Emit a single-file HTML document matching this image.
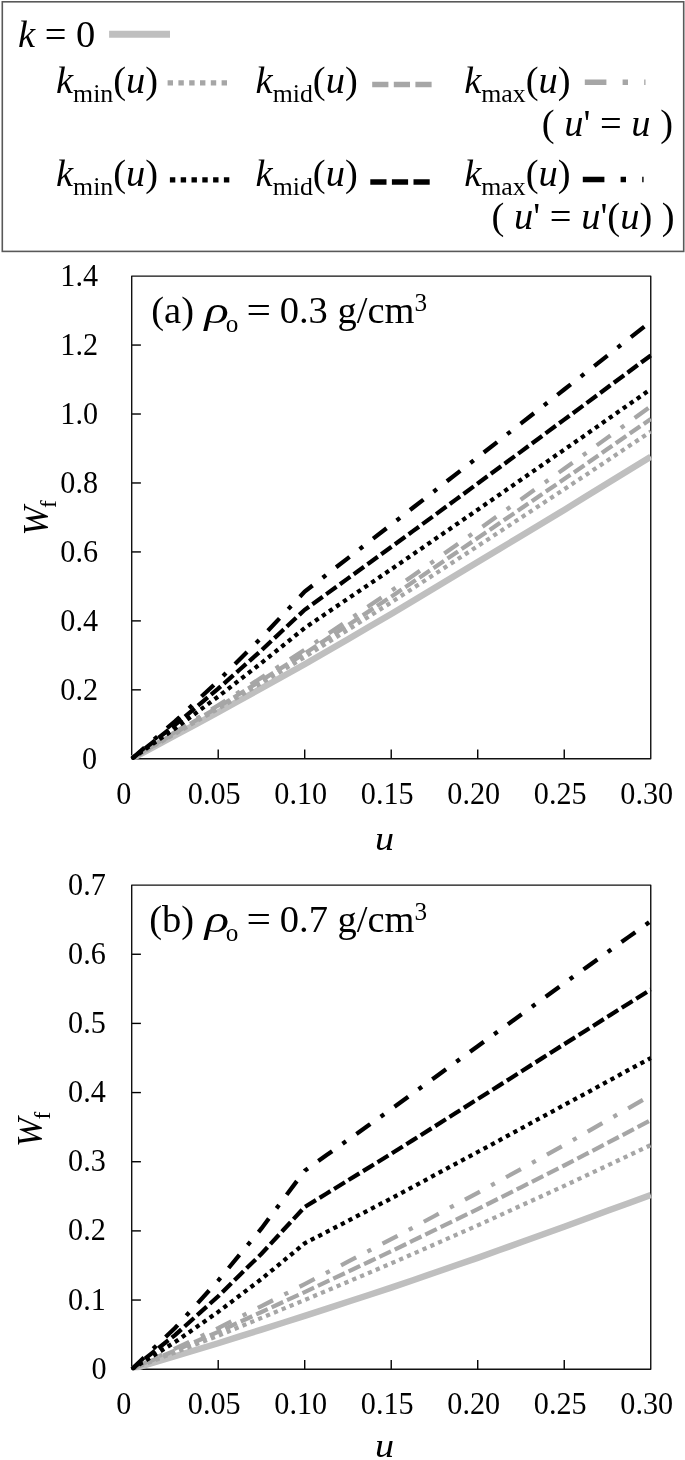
<!DOCTYPE html>
<html><head><meta charset="utf-8"><title>Figure</title>
<style>html,body{margin:0;padding:0;background:#fff}svg{display:block}text{font-family:"Liberation Serif", serif;fill:#000}</style>
</head><body>
<svg width="685" height="1460" viewBox="0 0 685 1460">
<rect width="685" height="1460" fill="#fff"/>
<rect x="2.3" y="1.8" width="681.4" height="249.6" fill="#fff" stroke="#595959" stroke-width="1.6"/>
<text x="18" y="46.6" font-size="38.5"><tspan font-style="italic">k</tspan> = 0</text>
<line x1="109.1" y1="34.3" x2="170" y2="34.3" stroke="#bfbfbf" stroke-width="7"/>
<text x="56" y="93.0" font-size="38.5"><tspan font-style="italic">k</tspan><tspan font-size="25.8" dy="9">min</tspan><tspan dy="-9">(</tspan><tspan font-style="italic">u</tspan>)</text>
<text x="255.6" y="93.0" font-size="38.5"><tspan font-style="italic">k</tspan><tspan font-size="25.8" dy="9">mid</tspan><tspan dy="-9">(</tspan><tspan font-style="italic">u</tspan>)</text>
<text x="464.2" y="93.0" font-size="38.5"><tspan font-style="italic">k</tspan><tspan font-size="25.8" dy="9">max</tspan><tspan dy="-9">(</tspan><tspan font-style="italic">u</tspan>)</text>
<line x1="167.6" y1="82.9" x2="228.2" y2="82.9" stroke="#a6a6a6" stroke-width="5.4" stroke-dasharray="5.4 5.4"/>
<line x1="372.2" y1="84.5" x2="431.6" y2="84.5" stroke="#a6a6a6" stroke-width="5.4" stroke-dasharray="16.20 5.4"/>
<line x1="584.8" y1="82.3" x2="645.5" y2="82.3" stroke="#a6a6a6" stroke-width="5.4" stroke-dasharray="21.60 16.20 5.4 16.20"/>
<text x="56" y="186.0" font-size="38.5"><tspan font-style="italic">k</tspan><tspan font-size="25.8" dy="9">min</tspan><tspan dy="-9">(</tspan><tspan font-style="italic">u</tspan>)</text>
<text x="255.6" y="186.0" font-size="38.5"><tspan font-style="italic">k</tspan><tspan font-size="25.8" dy="9">mid</tspan><tspan dy="-9">(</tspan><tspan font-style="italic">u</tspan>)</text>
<text x="464.2" y="186.0" font-size="38.5"><tspan font-style="italic">k</tspan><tspan font-size="25.8" dy="9">max</tspan><tspan dy="-9">(</tspan><tspan font-style="italic">u</tspan>)</text>
<line x1="169.9" y1="179.9" x2="230.5" y2="179.9" stroke="#000" stroke-width="5.4" stroke-dasharray="5.4 5.4"/>
<line x1="370.3" y1="182.0" x2="429.7" y2="182.0" stroke="#000" stroke-width="5.4" stroke-dasharray="16.20 5.4"/>
<line x1="582.8" y1="179.5" x2="643.6" y2="179.5" stroke="#000" stroke-width="5.4" stroke-dasharray="21.60 16.20 5.4 16.20"/>
<text x="673" y="136.4" font-size="38.5" text-anchor="end">( <tspan font-style="italic">u</tspan>' = <tspan font-style="italic">u</tspan> )</text>
<text x="674.7" y="229.0" font-size="38.5" text-anchor="end">( <tspan font-style="italic">u</tspan>' = <tspan font-style="italic">u</tspan>'(<tspan font-style="italic">u</tspan>) )</text>
<text transform="translate(97.0,769.00) scale(1,1.045)" font-size="30.2" text-anchor="end">0</text>
<line x1="131.7" y1="689.84" x2="140.9" y2="689.84" stroke="#000" stroke-width="1.4"/>
<text transform="translate(98.1,700.04) scale(1,1.045)" font-size="30.2" text-anchor="end">0.2</text>
<line x1="131.7" y1="620.89" x2="140.9" y2="620.89" stroke="#000" stroke-width="1.4"/>
<text transform="translate(98.1,631.09) scale(1,1.045)" font-size="30.2" text-anchor="end">0.4</text>
<line x1="131.7" y1="551.93" x2="140.9" y2="551.93" stroke="#000" stroke-width="1.4"/>
<text transform="translate(98.1,562.13) scale(1,1.045)" font-size="30.2" text-anchor="end">0.6</text>
<line x1="131.7" y1="482.97" x2="140.9" y2="482.97" stroke="#000" stroke-width="1.4"/>
<text transform="translate(98.1,493.17) scale(1,1.045)" font-size="30.2" text-anchor="end">0.8</text>
<line x1="131.7" y1="414.01" x2="140.9" y2="414.01" stroke="#000" stroke-width="1.4"/>
<text transform="translate(98.1,424.21) scale(1,1.045)" font-size="30.2" text-anchor="end">1.0</text>
<line x1="131.7" y1="345.06" x2="140.9" y2="345.06" stroke="#000" stroke-width="1.4"/>
<text transform="translate(98.1,355.26) scale(1,1.045)" font-size="30.2" text-anchor="end">1.2</text>
<text transform="translate(98.1,286.30) scale(1,1.045)" font-size="30.2" text-anchor="end">1.4</text>
<text transform="translate(123.90,804.20) scale(1,1.045)" font-size="30.2" text-anchor="middle">0</text>
<line x1="218.21" y1="758.8" x2="218.21" y2="749.5999999999999" stroke="#000" stroke-width="1.4"/>
<text transform="translate(214.21,804.20) scale(1,1.045)" font-size="30.2" text-anchor="middle">0.05</text>
<line x1="304.72" y1="758.8" x2="304.72" y2="749.5999999999999" stroke="#000" stroke-width="1.4"/>
<text transform="translate(300.72,804.20) scale(1,1.045)" font-size="30.2" text-anchor="middle">0.10</text>
<line x1="391.22" y1="758.8" x2="391.22" y2="749.5999999999999" stroke="#000" stroke-width="1.4"/>
<text transform="translate(387.22,804.20) scale(1,1.045)" font-size="30.2" text-anchor="middle">0.15</text>
<line x1="477.73" y1="758.8" x2="477.73" y2="749.5999999999999" stroke="#000" stroke-width="1.4"/>
<text transform="translate(473.73,804.20) scale(1,1.045)" font-size="30.2" text-anchor="middle">0.20</text>
<line x1="564.24" y1="758.8" x2="564.24" y2="749.5999999999999" stroke="#000" stroke-width="1.4"/>
<text transform="translate(560.24,804.20) scale(1,1.045)" font-size="30.2" text-anchor="middle">0.25</text>
<text transform="translate(646.75,804.20) scale(1,1.045)" font-size="30.2" text-anchor="middle">0.30</text>
<text transform="translate(384.6,850.10) scale(1.06,0.92)" font-size="36" font-style="italic" text-anchor="middle">u</text>
<text transform="translate(47.7,535.55) rotate(-90)" font-size="35"><tspan font-style="italic">W</tspan><tspan font-size="23" dy="8.3" dx="-1.5">f</tspan></text>
<text x="151.3" y="322.50" font-size="38.5">(a)</text>
<text transform="translate(204.60,322.50) scale(1.32,1)" font-size="38.5" font-style="italic">ρ</text>
<text x="225.70" y="331.50" font-size="25.2">o</text>
<text transform="translate(246.50,322.50) scale(1.13,1)" font-size="38.5">=</text>
<text x="279.70" y="322.50" font-size="38.5">0.3 g/cm<tspan font-size="25.2" dy="-11.5">3</tspan></text>
<rect x="131.7" y="276.1" width="519.05" height="482.69999999999993" fill="none" stroke="#111" stroke-width="1.4" stroke-linejoin="round"/>
<g clip-path="url(#ca)">
<clipPath id="ca"><rect x="130.7" y="276.1" width="521.05" height="483.69999999999993"/></clipPath>
<polyline points="131.7,758.8 153.3,747.2 175.0,735.5 196.6,723.9 218.2,712.3 239.8,700.3 261.5,688.3 283.1,676.3 304.7,664.3 326.3,651.7 348.0,639.2 369.6,626.6 391.2,614.0 412.9,601.0 434.5,588.0 456.1,575.1 477.7,562.1 499.4,549.0 521.0,536.0 542.6,522.9 564.2,509.9 585.9,496.6 607.5,483.3 629.1,470.0 650.8,456.8" fill="none" stroke="#bfbfbf" stroke-width="6.4"/>
<polyline points="131.7,758.8 153.3,746.3 175.0,733.8 196.6,721.3 218.2,708.8 239.8,695.9 261.5,682.9 283.1,670.0 304.7,657.1 326.3,643.4 348.0,629.8 369.6,616.1 391.2,602.4 412.9,588.3 434.5,574.3 456.1,560.2 477.7,546.1 499.4,531.9 521.0,517.7 542.6,503.5 564.2,489.3 585.9,474.9 607.5,460.5 629.1,446.0 650.8,431.6" fill="none" stroke="#a6a6a6" stroke-width="4.25" stroke-dasharray="4.25 4.25"/>
<polyline points="131.7,758.8 153.3,745.9 175.0,732.9 196.6,720.0 218.2,707.1 239.8,693.7 261.5,680.3 283.1,666.9 304.7,653.5 326.3,639.3 348.0,625.1 369.6,610.9 391.2,596.7 412.9,582.0 434.5,567.4 456.1,552.7 477.7,538.1 499.4,523.3 521.0,508.6 542.6,493.8 564.2,479.1 585.9,464.1 607.5,449.1 629.1,434.0 650.8,419.0" fill="none" stroke="#a6a6a6" stroke-width="4.25" stroke-dasharray="12.75 4.25"/>
<polyline points="131.7,758.8 153.3,745.4 175.0,732.1 196.6,718.7 218.2,705.4 239.8,691.5 261.5,677.6 283.1,663.7 304.7,649.8 326.3,635.1 348.0,620.4 369.6,605.6 391.2,590.9 412.9,575.7 434.5,560.5 456.1,545.2 477.7,530.0 499.4,514.7 521.0,499.4 542.6,484.1 564.2,468.8 585.9,453.2 607.5,437.6 629.1,422.0 650.8,406.4" fill="none" stroke="#a6a6a6" stroke-width="4.25" stroke-dasharray="17.00 12.75 4.25 12.75"/>
<polyline points="131.7,758.8 153.3,743.6 175.0,728.5 196.6,712.5 218.2,696.6 239.8,679.8 261.5,662.9 283.1,645.5 304.7,628.0 326.3,613.3 348.0,598.6 369.6,584.0 391.2,569.3 412.9,554.4 434.5,539.5 456.1,524.6 477.7,509.7 499.4,494.7 521.0,479.7 542.6,464.7 564.2,449.7 585.9,434.6 607.5,419.4 629.1,404.3 650.8,389.2" fill="none" stroke="#000" stroke-width="4.25" stroke-dasharray="4.25 4.25"/>
<polyline points="131.7,758.8 153.3,741.9 175.0,724.9 196.6,706.8 218.2,688.7 239.8,669.5 261.5,650.3 283.1,630.0 304.7,609.8 326.3,594.1 348.0,578.4 369.6,562.7 391.2,547.0 412.9,531.1 434.5,515.3 456.1,499.4 477.7,483.5 499.4,467.5 521.0,451.6 542.6,435.6 564.2,419.6 585.9,403.6 607.5,387.5 629.1,371.5 650.8,355.4" fill="none" stroke="#000" stroke-width="4.25" stroke-dasharray="12.75 4.25"/>
<polyline points="131.7,758.8 153.3,740.1 175.0,721.4 196.6,701.1 218.2,680.9 239.8,659.2 261.5,637.6 283.1,614.6 304.7,591.6 326.3,574.9 348.0,558.1 369.6,541.4 391.2,524.7 412.9,507.8 434.5,491.0 456.1,474.1 477.7,457.3 499.4,440.3 521.0,423.4 542.6,406.5 564.2,389.5 585.9,372.6 607.5,355.6 629.1,338.6 650.8,321.6" fill="none" stroke="#000" stroke-width="4.25" stroke-dasharray="17.00 12.75 4.25 12.75"/>
</g>
<text transform="translate(106.6,1378.80) scale(1,1.045)" font-size="30.2" text-anchor="end">0</text>
<line x1="131.7" y1="1300.04" x2="140.9" y2="1300.04" stroke="#000" stroke-width="1.4"/>
<text transform="translate(105.8,1309.64) scale(1,1.045)" font-size="30.2" text-anchor="end">0.1</text>
<line x1="131.7" y1="1230.89" x2="140.9" y2="1230.89" stroke="#000" stroke-width="1.4"/>
<text transform="translate(105.8,1240.49) scale(1,1.045)" font-size="30.2" text-anchor="end">0.2</text>
<line x1="131.7" y1="1161.73" x2="140.9" y2="1161.73" stroke="#000" stroke-width="1.4"/>
<text transform="translate(105.8,1171.33) scale(1,1.045)" font-size="30.2" text-anchor="end">0.3</text>
<line x1="131.7" y1="1092.57" x2="140.9" y2="1092.57" stroke="#000" stroke-width="1.4"/>
<text transform="translate(105.8,1102.17) scale(1,1.045)" font-size="30.2" text-anchor="end">0.4</text>
<line x1="131.7" y1="1023.41" x2="140.9" y2="1023.41" stroke="#000" stroke-width="1.4"/>
<text transform="translate(105.8,1033.01) scale(1,1.045)" font-size="30.2" text-anchor="end">0.5</text>
<line x1="131.7" y1="954.26" x2="140.9" y2="954.26" stroke="#000" stroke-width="1.4"/>
<text transform="translate(105.8,963.86) scale(1,1.045)" font-size="30.2" text-anchor="end">0.6</text>
<text transform="translate(105.8,894.70) scale(1,1.045)" font-size="30.2" text-anchor="end">0.7</text>
<text transform="translate(123.90,1413.80) scale(1,1.045)" font-size="30.2" text-anchor="middle">0</text>
<line x1="218.21" y1="1369.2" x2="218.21" y2="1360.0" stroke="#000" stroke-width="1.4"/>
<text transform="translate(214.21,1413.80) scale(1,1.045)" font-size="30.2" text-anchor="middle">0.05</text>
<line x1="304.72" y1="1369.2" x2="304.72" y2="1360.0" stroke="#000" stroke-width="1.4"/>
<text transform="translate(300.72,1413.80) scale(1,1.045)" font-size="30.2" text-anchor="middle">0.10</text>
<line x1="391.22" y1="1369.2" x2="391.22" y2="1360.0" stroke="#000" stroke-width="1.4"/>
<text transform="translate(387.22,1413.80) scale(1,1.045)" font-size="30.2" text-anchor="middle">0.15</text>
<line x1="477.73" y1="1369.2" x2="477.73" y2="1360.0" stroke="#000" stroke-width="1.4"/>
<text transform="translate(473.73,1413.80) scale(1,1.045)" font-size="30.2" text-anchor="middle">0.20</text>
<line x1="564.24" y1="1369.2" x2="564.24" y2="1360.0" stroke="#000" stroke-width="1.4"/>
<text transform="translate(560.24,1413.80) scale(1,1.045)" font-size="30.2" text-anchor="middle">0.25</text>
<text transform="translate(646.75,1413.80) scale(1,1.045)" font-size="30.2" text-anchor="middle">0.30</text>
<text transform="translate(384.6,1457.30) scale(1.06,0.92)" font-size="36" font-style="italic" text-anchor="middle">u</text>
<text transform="translate(41.6,1147.05) rotate(-90)" font-size="35"><tspan font-style="italic">W</tspan><tspan font-size="23" dy="8.3" dx="-1.5">f</tspan></text>
<text x="149.2" y="931.50" font-size="38.5">(b)</text>
<text transform="translate(204.65,931.50) scale(1.32,1)" font-size="38.5" font-style="italic">ρ</text>
<text x="225.75" y="940.50" font-size="25.2">o</text>
<text transform="translate(246.55,931.50) scale(1.13,1)" font-size="38.5">=</text>
<text x="279.75" y="931.50" font-size="38.5">0.7 g/cm<tspan font-size="25.2" dy="-11.5">3</tspan></text>
<rect x="131.7" y="885.1" width="519.05" height="484.1" fill="none" stroke="#111" stroke-width="1.4" stroke-linejoin="round"/>
<g clip-path="url(#cb)">
<clipPath id="cb"><rect x="130.7" y="885.1" width="521.05" height="485.1"/></clipPath>
<polyline points="131.7,1369.2 153.3,1362.7 175.0,1356.2 196.6,1349.7 218.2,1343.3 239.8,1336.4 261.5,1329.6 283.1,1322.8 304.7,1315.9 326.3,1308.9 348.0,1301.8 369.6,1294.7 391.2,1287.6 412.9,1280.2 434.5,1272.7 456.1,1265.3 477.7,1257.9 499.4,1250.1 521.0,1242.3 542.6,1234.5 564.2,1226.7 585.9,1218.8 607.5,1210.8 629.1,1202.9 650.8,1194.9" fill="none" stroke="#bfbfbf" stroke-width="6.4"/>
<polyline points="131.7,1369.2 153.3,1360.8 175.0,1352.4 196.6,1344.0 218.2,1335.7 239.8,1326.8 261.5,1317.9 283.1,1308.9 304.7,1300.0 326.3,1290.9 348.0,1281.7 369.6,1272.6 391.2,1263.4 412.9,1253.9 434.5,1244.4 456.1,1234.9 477.7,1225.4 499.4,1215.5 521.0,1205.6 542.6,1195.8 564.2,1185.9 585.9,1175.7 607.5,1165.5 629.1,1155.3 650.8,1145.1" fill="none" stroke="#a6a6a6" stroke-width="4.25" stroke-dasharray="4.25 4.25"/>
<polyline points="131.7,1369.2 153.3,1359.9 175.0,1350.5 196.6,1341.2 218.2,1331.9 239.8,1321.9 261.5,1312.0 283.1,1302.0 304.7,1292.1 326.3,1281.9 348.0,1271.7 369.6,1261.5 391.2,1251.3 412.9,1240.7 434.5,1230.2 456.1,1219.6 477.7,1209.1 499.4,1198.2 521.0,1187.3 542.6,1176.4 564.2,1165.5 585.9,1154.2 607.5,1142.9 629.1,1131.6 650.8,1120.2" fill="none" stroke="#a6a6a6" stroke-width="4.25" stroke-dasharray="12.75 4.25"/>
<polyline points="131.7,1369.2 153.3,1358.9 175.0,1348.6 196.6,1338.3 218.2,1328.1 239.8,1317.1 261.5,1306.1 283.1,1295.1 304.7,1284.1 326.3,1272.9 348.0,1261.7 369.6,1250.4 391.2,1239.2 412.9,1227.6 434.5,1216.0 456.1,1204.4 477.7,1192.8 499.4,1180.9 521.0,1169.0 542.6,1157.1 564.2,1145.1 585.9,1132.7 607.5,1120.2 629.1,1107.8 650.8,1095.3" fill="none" stroke="#a6a6a6" stroke-width="4.25" stroke-dasharray="17.00 12.75 4.25 12.75"/>
<polyline points="131.7,1369.2 153.3,1355.7 175.0,1342.1 196.6,1327.0 218.2,1311.9 239.8,1295.5 261.5,1279.0 283.1,1261.2 304.7,1243.3 326.3,1232.1 348.0,1220.9 369.6,1209.6 391.2,1198.4 412.9,1186.8 434.5,1175.2 456.1,1163.6 477.7,1152.0 499.4,1140.3 521.0,1128.5 542.6,1116.8 564.2,1105.0 585.9,1093.3 607.5,1081.5 629.1,1069.7 650.8,1058.0" fill="none" stroke="#000" stroke-width="4.25" stroke-dasharray="4.25 4.25"/>
<polyline points="131.7,1369.2 153.3,1352.1 175.0,1335.1 196.6,1315.7 218.2,1296.3 239.8,1275.0 261.5,1253.7 283.1,1230.3 304.7,1207.0 326.3,1193.7 348.0,1180.4 369.6,1167.1 391.2,1153.8 412.9,1140.1 434.5,1126.5 456.1,1112.8 477.7,1099.1 499.4,1085.4 521.0,1071.7 542.6,1057.9 564.2,1044.2 585.9,1030.5 607.5,1016.8 629.1,1003.2 650.8,989.5" fill="none" stroke="#000" stroke-width="4.25" stroke-dasharray="12.75 4.25"/>
<polyline points="131.7,1369.2 153.3,1348.6 175.0,1328.0 196.6,1304.3 218.2,1280.6 239.8,1254.5 261.5,1228.4 283.1,1199.5 304.7,1170.7 326.3,1155.3 348.0,1139.9 369.6,1124.6 391.2,1109.2 412.9,1093.4 434.5,1077.7 456.1,1062.0 477.7,1046.2 499.4,1030.5 521.0,1014.8 542.6,999.0 564.2,983.3 585.9,967.7 607.5,952.2 629.1,936.6 650.8,921.1" fill="none" stroke="#000" stroke-width="4.25" stroke-dasharray="17.00 12.75 4.25 12.75"/>
</g>
</svg>
</body></html>
